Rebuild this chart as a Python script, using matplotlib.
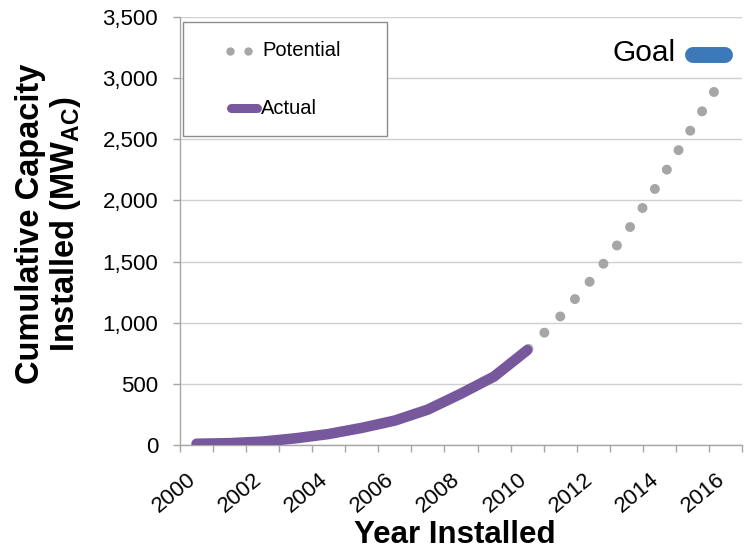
import numpy as np
import matplotlib
matplotlib.use("Agg")
import matplotlib.pyplot as plt
from matplotlib.patches import Rectangle
from matplotlib.ticker import FuncFormatter, FixedLocator
from matplotlib.transforms import ScaledTranslation

plt.rcParams['font.family'] = ['Liberation Sans', 'DejaVu Sans']
plt.rcParams['mathtext.fontset'] = 'custom'
plt.rcParams['mathtext.rm'] = 'Liberation Sans'
plt.rcParams['mathtext.bf'] = 'Liberation Sans:bold'

# Cumulative installed capacity (MW-AC)
actual_years = np.arange(2000, 2011)
actual_mw = [10, 15, 28, 55, 90, 140, 200, 290, 420, 560, 775]

potential_years = np.arange(2010, 2017)
potential_mw = [775, 1050, 1370, 1735, 2150, 2600, 3040]

x_tick_years = np.arange(2000, 2017, 2)
y_ticks = np.arange(0, 3501, 500)

PURPLE = '#77589C'
GRAY = '#A6A6A6'
BLUE = '#3D79B9'
AXIS_GRAY = '#A6A6A6'
GRID = '#D0D0D0'

W, H = 745, 552
fig = plt.figure(figsize=(W / 100, H / 100), dpi=100)
L, R, T, B = 180, 742, 17, 445
ax = fig.add_axes([L / W, 1 - B / H, (R - L) / W, (B - T) / H])

ax.plot(potential_years, potential_mw, color=GRAY, lw=7.2,
        linestyle=(2.08, (0.001, 2.27)), dash_capstyle='round', zorder=2)
ax.plot(actual_years, actual_mw, color=PURPLE, lw=7.6,
        solid_capstyle='round', solid_joinstyle='round', zorder=3)

ax.set_xlim(1999.5, 2016.5)
ax.set_ylim(0, 3500)

ax.yaxis.set_major_locator(FixedLocator(y_ticks))
ax.yaxis.set_major_formatter(FuncFormatter(lambda v, p: f"{int(v):,}"))
ax.yaxis.grid(True, color=GRID, lw=1)
ax.set_axisbelow(True)

ax.xaxis.set_major_locator(FixedLocator(x_tick_years))
ax.xaxis.set_minor_locator(FixedLocator(np.arange(1999.5, 2016.6, 1)))
ax.tick_params(axis='x', which='major', length=0, pad=17, labelsize=16,
               labelrotation=40)
ax.tick_params(axis='x', which='minor', length=4.8, width=1, color=AXIS_GRAY,
               direction='out')
ax.tick_params(axis='y', which='major', length=4.8, width=1, color=AXIS_GRAY,
               pad=11, labelsize=16)
for lab in ax.get_xticklabels():
    lab.set_ha('right')
    lab.set_va('top')
    lab.set_transform(lab.get_transform() +
                      ScaledTranslation(3.5 / 100, 0, fig.dpi_scale_trans))

for side in ('top', 'right'):
    ax.spines[side].set_visible(False)
for side in ('left', 'bottom'):
    ax.spines[side].set_color(AXIS_GRAY)
    ax.spines[side].set_linewidth(1)

# Axis titles
fig.text(455 / W, 1 - 535 / H, 'Year Installed', ha='center', va='center',
         fontsize=22.5, fontweight='bold')
fig.text(49 / W, 1 - 224 / H,
         'Cumulative Capacity\nInstalled (MW$_{\\mathbf{AC}}$)',
         ha='center', va='center', rotation=90, fontsize=23.5,
         fontweight='bold', linespacing=1.1, multialignment='center')

# Legend box with its keys
def fx(px):
    return (px - L) / (R - L)

def fy(py):
    return (B - py) / (B - T)

ax.add_patch(Rectangle((fx(183), fy(136)), fx(386.5) - fx(183), fy(22) - fy(136),
                       transform=ax.transAxes, facecolor='white',
                       edgecolor='#8C8C8C', lw=1, zorder=5, clip_on=False))
ax.plot([fx(230), fx(248.3)], [fy(51), fy(51)], transform=ax.transAxes,
        ls='none', marker='o', ms=6, color=GRAY, mec='none', zorder=6,
        clip_on=False)
ax.text(fx(262), fy(51), 'Potential', transform=ax.transAxes, ha='left',
        va='center', fontsize=14.5, zorder=6)
ax.plot([fx(231), fx(257)], [fy(108), fy(108)], transform=ax.transAxes,
        color=PURPLE, lw=6.5, solid_capstyle='round', zorder=6, clip_on=False)
ax.text(fx(261), fy(108), 'Actual', transform=ax.transAxes, ha='left',
        va='center', fontsize=14.5, zorder=6)

# Goal key
ax.plot([fx(692.6), fx(725)], [fy(55), fy(55)], transform=ax.transAxes,
        color=BLUE, lw=11.5, solid_capstyle='round', zorder=6, clip_on=False)
ax.text(fx(676), fy(53), 'Goal', transform=ax.transAxes, ha='right',
        va='center', fontsize=21.5, zorder=6)

fig.savefig('out.png', dpi=100)
